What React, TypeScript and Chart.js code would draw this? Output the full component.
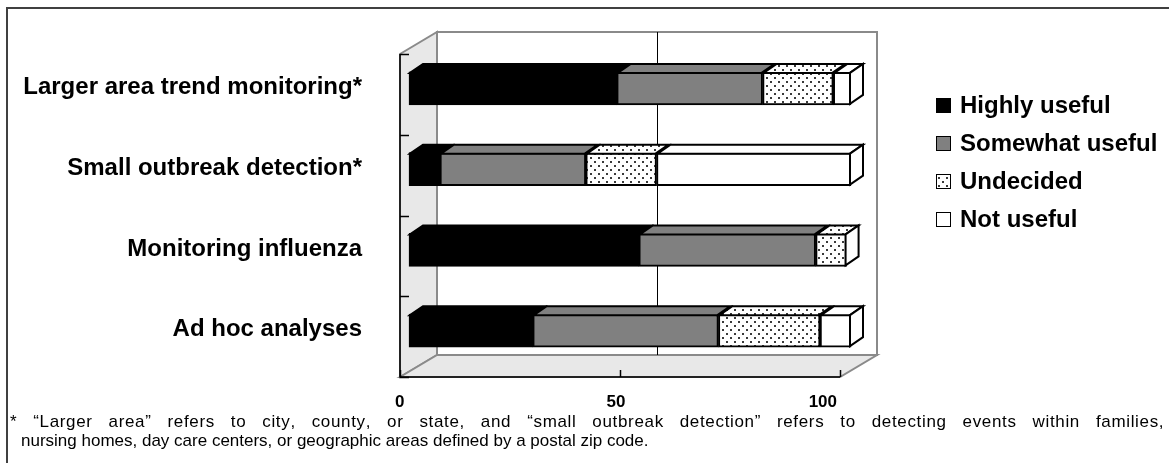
import React, { useEffect, useRef } from "react";
import { Chart, registerables } from "chart.js";

Chart.register(...registerables);

const categories = [
  "Larger area trend monitoring*",
  "Small outbreak detection*",
  "Monitoring influenza",
  "Ad hoc analyses",
];
const seriesNames = ["Highly useful", "Somewhat useful", "Undecided", "Not useful"];
const highlyUseful = [47, 7, 52, 28];
const somewhatUseful = [33, 33, 40, 42];
const undecided = [16, 16, 7, 23];
const notUseful = [4, 44, 0, 7];
const xTickValues = [0, 50, 100];
const footnoteLines = [
  "* \u201cLarger area\u201d refers to city, county, or state, and \u201csmall outbreak detection\u201d refers to detecting events within families,",
  "nursing homes, day care centers, or geographic areas defined by a postal zip code.",
];

const FONT = "'Liberation Sans', Arial, Helvetica, sans-serif";
const W = 1169;
const H = 463;

// 3D geometry (pixels)
const FRONT_DX = -9;
const FRONT_DY = 6;
const DEPTH_X = 37;
const DEPTH_Y = -22;
const BAR_DX = 13;
const BAR_DY = -9;

function makeDots(): CanvasPattern | string {
  const c = document.createElement("canvas");
  c.width = 8;
  c.height = 8;
  const g = c.getContext("2d");
  if (!g) return "#fff";
  g.fillStyle = "#fff";
  g.fillRect(0, 0, 8, 8);
  g.fillStyle = "#3a3a3a";
  g.fillRect(2, 1, 2, 2);
  g.fillRect(6, 5, 2, 2);
  return g.createPattern(c, "repeat") || "#fff";
}

function frameGeom(chart: any) {
  const ca = chart.chartArea;
  const FL = ca.left + FRONT_DX;
  const FR = ca.right - 11;
  const FT = ca.top + FRONT_DY;
  const FB = ca.bottom + FRONT_DY;
  return { ca, FL, FR, FT, FB, BL: FL + DEPTH_X, BR: FR + DEPTH_X, BT: FT + DEPTH_Y, BB: FB + DEPTH_Y };
}

// justified line: extra width shared between word spacing and letter spacing
function drawJustified(ctx: CanvasRenderingContext2D, text: string, x: number, y: number, right: number) {
  const chars = Array.from(text);
  const natural = ctx.measureText(text).width;
  const extra = right - x - natural;
  const spaces = chars.filter((c) => c === " ").length;
  const ws = (extra * 0.7) / spaces;
  const ls = (extra * 0.3) / (chars.length - 1);
  let cx = x;
  chars.forEach((ch) => {
    ctx.fillText(ch, cx, y);
    cx += ctx.measureText(ch).width + ls + (ch === " " ? ws : 0);
  });
}

const frame3d = {
  id: "frame3d",
  beforeDraw(chart: any) {
    const ctx = chart.ctx;
    ctx.save();
    ctx.fillStyle = "#fff";
    ctx.fillRect(0, 0, chart.width, chart.height);
    ctx.strokeStyle = "#404040";
    ctx.lineWidth = 2;
    ctx.beginPath();
    ctx.moveTo(7, chart.height);
    ctx.lineTo(7, 8);
    ctx.lineTo(chart.width, 8);
    ctx.stroke();
    ctx.restore();
  },
  beforeDatasetsDraw(chart: any) {
    const ctx = chart.ctx;
    const xs = chart.scales.x;
    const g = frameGeom(chart);
    const { ca, FL, FR, FT, FB, BL, BR, BT, BB } = g;
    const frac = (v: number) => (xs.getPixelForValue(v) - ca.left) / (ca.right - ca.left);
    ctx.save();
    ctx.lineJoin = "miter";
    ctx.fillStyle = "#fff";
    ctx.fillRect(BL, BT, BR - BL, BB - BT);
    ctx.strokeStyle = "#8a8a8a";
    ctx.lineWidth = 2;
    ctx.strokeRect(BL, BT, BR - BL, BB - BT);
    ctx.fillStyle = "#e8e8e8";
    ctx.beginPath();
    ctx.moveTo(FL, FT);
    ctx.lineTo(BL, BT);
    ctx.lineTo(BL, BB);
    ctx.lineTo(FL, FB);
    ctx.closePath();
    ctx.fill();
    ctx.stroke();
    ctx.beginPath();
    ctx.moveTo(FL, FB);
    ctx.lineTo(BL, BB);
    ctx.lineTo(BR, BB);
    ctx.lineTo(FR, FB);
    ctx.closePath();
    ctx.fill();
    ctx.stroke();
    ctx.strokeStyle = "#000";
    ctx.lineWidth = 1;
    xTickValues.forEach((v) => {
      if (v === 0 || v === 100) return;
      const x = Math.round(BL + (BR - BL) * frac(v)) + 0.5;
      ctx.beginPath();
      ctx.moveTo(x, BT);
      ctx.lineTo(x, BB);
      ctx.stroke();
    });
    ctx.lineWidth = 1.5;
    ctx.beginPath();
    ctx.moveTo(FL, FT);
    ctx.lineTo(FL, FB);
    ctx.lineTo(FR, FB);
    ctx.stroke();
    const n = categories.length;
    for (let k = 0; k <= n; k++) {
      const y = Math.round(FT + ((FB - FT) * k) / n) + 0.5;
      ctx.beginPath();
      ctx.moveTo(FL, y);
      ctx.lineTo(FL + 9, y);
      ctx.stroke();
    }
    xTickValues.forEach((v) => {
      const x = Math.round(FL + (FR - FL) * frac(v)) + 0.5;
      ctx.beginPath();
      ctx.moveTo(x, FB);
      ctx.lineTo(x, FB - 7);
      ctx.stroke();
    });
    ctx.restore();
  },
  afterDatasetsDraw(chart: any) {
    const ctx = chart.ctx;
    const nd = chart.data.datasets.length;
    const nCat = categories.length;
    ctx.save();
    ctx.lineWidth = 2;
    ctx.strokeStyle = "#000";
    ctx.lineJoin = "miter";
    for (let j = 0; j < nCat; j++) {
      let lastIdx = -1;
      for (let i = 0; i < nd; i++) {
        if (chart.data.datasets[i].data[j] > 0) lastIdx = i;
      }
      for (let i = 0; i < nd; i++) {
        const ds = chart.data.datasets[i];
        if (!(ds.data[j] > 0)) continue;
        const el = chart.getDatasetMeta(i).data[j];
        const p = el.getProps(["x", "y", "base", "height"], true);
        const left = Math.min(p.x, p.base) + 1;
        const right = Math.max(p.x, p.base) - 1;
        const top = p.y - p.height / 2 + 1;
        const bottom = p.y + p.height / 2 - 1;
        ctx.fillStyle = ds.backgroundColor;
        ctx.beginPath();
        ctx.moveTo(left, top);
        ctx.lineTo(left + BAR_DX, top + BAR_DY);
        ctx.lineTo(right + BAR_DX, top + BAR_DY);
        ctx.lineTo(right, top);
        ctx.closePath();
        ctx.fill();
        ctx.stroke();
        if (i === lastIdx) {
          ctx.fillStyle = i === 2 ? "#fff" : ds.backgroundColor;
          ctx.beginPath();
          ctx.moveTo(right, top);
          ctx.lineTo(right + BAR_DX, top + BAR_DY);
          ctx.lineTo(right + BAR_DX, bottom + BAR_DY);
          ctx.lineTo(right, bottom);
          ctx.closePath();
          ctx.fill();
          ctx.stroke();
        }
      }
    }
    ctx.restore();
  },
  afterDraw(chart: any) {
    const ctx = chart.ctx;
    ctx.save();
    const legendY = [105, 143, 181, 219];
    ctx.textBaseline = "middle";
    ctx.textAlign = "left";
    ctx.font = `bold 24px ${FONT}`;
    chart.data.datasets.forEach((ds: any, i: number) => {
      const cy = legendY[i];
      ctx.fillStyle = ds.backgroundColor;
      ctx.fillRect(936, cy - 7, 15, 15);
      ctx.strokeStyle = "#000";
      ctx.lineWidth = 1;
      ctx.strokeRect(936.5, cy - 6.5, 14, 14);
      ctx.fillStyle = "#000";
      ctx.fillText(ds.label, 960, cy + 1);
    });
    ctx.font = `17px ${FONT}`;
    ctx.fillStyle = "#000";
    drawJustified(ctx, footnoteLines[0], 10, 422, 1161);
    ctx.fillText(footnoteLines[1], 21, 441);
    ctx.restore();
  },
};

export default function App() {
  const ref = useRef<HTMLCanvasElement | null>(null);
  useEffect(() => {
    document.body.style.margin = "0";
    const canvas = ref.current;
    if (!canvas) return;
    const dots = makeDots();
    const colors: any[] = ["#000000", "#808080", dots, "#ffffff"];
    const values = [highlyUseful, somewhatUseful, undecided, notUseful];
    const chart = new Chart(canvas, {
      type: "bar",
      data: {
        labels: categories,
        datasets: seriesNames.map((name, i) => ({
          label: name,
          data: values[i],
          backgroundColor: colors[i],
          borderColor: "#000",
          borderWidth: 2,
          borderSkipped: false,
          barThickness: 33,
          clip: false as any,
        })),
      },
      options: {
        indexAxis: "y",
        responsive: false,
        animation: false,
        events: [],
        layout: { padding: { left: 0, top: 48, right: 318, bottom: 0 } },
        plugins: {
          legend: { display: false },
          tooltip: { enabled: false },
        },
        scales: {
          x: {
            stacked: true,
            min: 0,
            max: 100,
            position: "bottom",
            grid: { display: false, drawTicks: false },
            border: { display: false },
            ticks: {
              stepSize: 50,
              color: "#000",
              font: { family: FONT, size: 17, weight: "bold" },
              padding: 21,
              align: "inner",
              labelOffset: -14,
            },
            afterFit: (s: any) => {
              s.height = 92;
              s.paddingLeft = 0;
              s.paddingRight = 0;
            },
          },
          y: {
            stacked: true,
            grid: { display: false, drawTicks: false },
            border: { display: false },
            ticks: {
              color: "#000",
              font: { family: FONT, size: 24, weight: "bold" },
              padding: 47,
              labelOffset: -1,
              autoSkip: false,
            },
            afterFit: (s: any) => {
              s.width = 409;
              s.paddingTop = 0;
              s.paddingBottom = 0;
            },
          },
        },
      } as any,
      plugins: [frame3d],
    });
    return () => chart.destroy();
  }, []);
  return <canvas ref={ref} width={W} height={H} style={{ display: "block" }} />;
}
